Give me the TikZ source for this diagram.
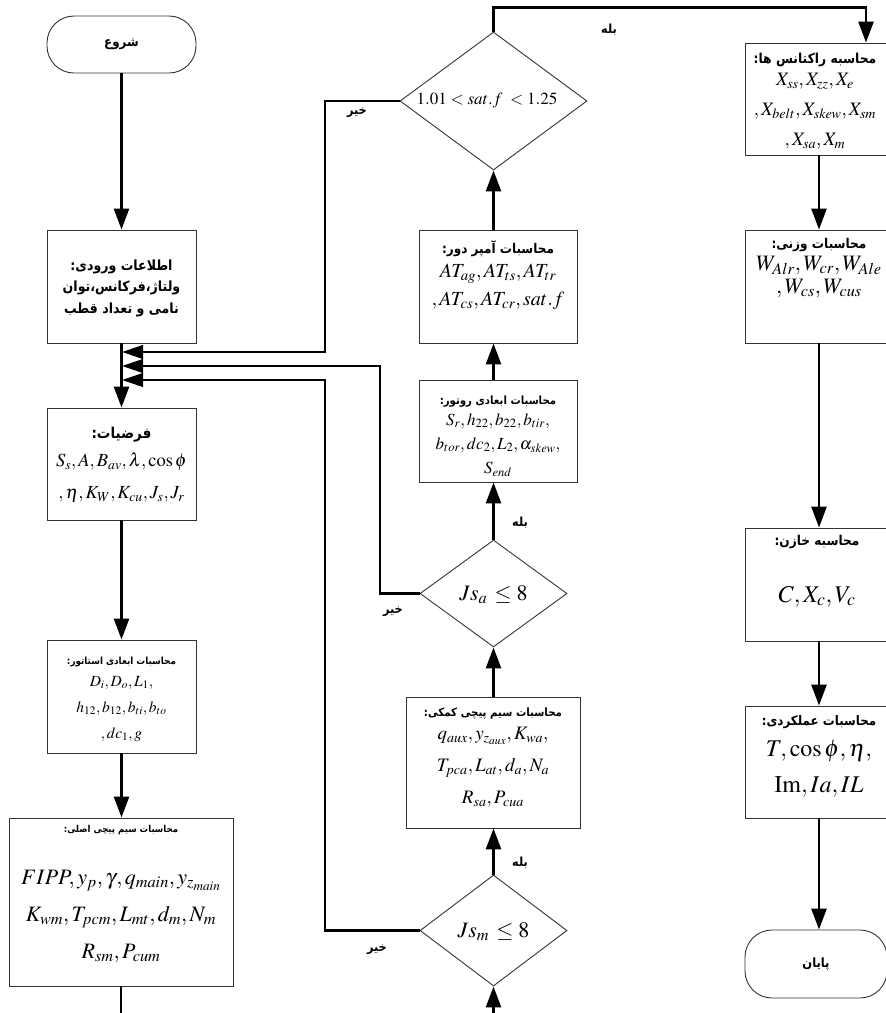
\documentclass[tikz,border=0pt]{standalone}
\usepackage{mathptmx}
\usepackage{fontspec}
\setmainfont{Liberation Serif}
\newfontfamily\farsi[Script=Arabic,FakeStretch=0.9]{DejaVu Sans}
\TeXXeTstate=1
\usetikzlibrary{shapes.geometric,arrows.meta,calc}
\newcommand{\faf}[1]{\fontsize{#1}{#1}\selectfont\farsi\bfseries}
\newcommand{\ms}[2]{\fontsize{#1}{#2}\selectfont}
\begin{document}
\begin{tikzpicture}[x=1pt,y=-1pt,
  box/.style={draw=black!80,line width=0.9pt,rectangle,inner sep=0pt},
  term/.style={draw=black!80,line width=0.9pt,rectangle,rounded corners=27pt,inner sep=0pt},
  dia/.style={draw=black!80,line width=0.9pt,diamond,inner sep=0pt},
  conn/.style={line width=2.6pt,-{Triangle[length=21pt,width=15pt]}},
  fbarrow/.style={line width=2.6pt,-{Triangle[length=21pt,width=13.5pt]}},
  txt/.style={align=center,inner sep=0pt},
  lbl/.style={inner sep=0pt,font=\faf{12.5}}]
\useasboundingbox (0,0) rectangle (886,1013);
\clip (0,0) rectangle (886,1013);

% ---------- left column ----------
\node[term,minimum width=149pt,minimum height=57pt,font=\faf{13.2}] (start) at (121.5,44.5) {\beginR شروع\endR};
\node[box,minimum width=149pt,minimum height=113pt] (in) at (121.5,286.5) {};
\node[txt,font=\ms{14}{21.5}] (in-t) at (121.5,288) {{\faf{14}\beginR اطلاعات ورودی:\endR}\\{\faf{14}\beginR ولتاژ،فرکانس،توان\endR}\\{\faf{14}\beginR نامی و تعداد قطب\endR}};
\node[box,minimum width=149pt,minimum height=112pt] (ass) at (121.5,464) {};
\node[txt,font=\ms{18.5}{32}] (ass-t) at (121.5,465) {{\faf{15}\beginR فرضیات:\endR}\\[-4pt]$S_s, A, B_{av}, \lambda, \cos\phi$\\$,\eta, K_W, K_{cu}, J_s, J_r$};
\node[box,minimum width=149pt,minimum height=113pt] (st) at (121.5,696.5) {};
\node[txt,font=\ms{15.5}{26}] (st-t) at (121.5,699) {{\faf{9.8}\beginR محاسبات ابعادی استاتور:\endR}\\[-4pt]$D_i, D_o, L_1,$\\$h_{12}, b_{12}, b_{ti}, b_{to}$\\$,dc_1, g$};
\node[box,minimum width=224pt,minimum height=168pt] (main) at (121,902) {};
\node[txt,font=\ms{22}{37}] (main-t) at (121,894) {{\faf{9.5}\beginR محاسبات سیم پیچی اصلی:\endR}\\[15pt]$FIPP, y_p, \gamma, q_{main}, y_{z_{main}}$\\$K_{wm}, T_{pcm}, L_{mt}, d_m, N_m$\\$R_{sm}, P_{cum}$};

% ---------- middle column ----------
\node[dia,minimum width=187pt,minimum height=138pt] (td) at (493.5,101) {};
\node[txt,font=\ms{17}{20}] (td-t) at (487,100) {$1.01 < sat.f\; < 1.25$};
\node[box,minimum width=158pt,minimum height=113pt] (amp) at (498,286.5) {};
\node[txt,font=\ms{20}{28}] (amp-t) at (498,275) {{\faf{13.4}\beginR محاسبات آمپر دور:\endR}\\[-4pt]$AT_{ag}, AT_{ts}, AT_{tr}$\\$,AT_{cs}, AT_{cr}, sat.f$};
\node[box,minimum width=158pt,minimum height=102pt] (rot) at (498,431) {};
\node[txt,font=\ms{17}{24}] (rot-t) at (498,436) {{\faf{11.3}\beginR محاسبات ابعادی روتور:\endR}\\[-3pt]$S_r, h_{22}, b_{22}, b_{tir},$\\$b_{tor}, dc_2, L_2, \alpha_{skew},$\\$S_{end}$};
\node[dia,minimum width=147pt,minimum height=107pt] (jsa) at (493.5,593.5) {};
\node[txt,font=\ms{22}{24}] (jsa-t) at (493.5,595) {$Js_a\, \le 8$};
\node[box,minimum width=174pt,minimum height=131pt] (aux) at (493,762.5) {};
\node[txt,font=\ms{19}{32}] (aux-t) at (493,758) {{\faf{11.4}\beginR محاسبات سیم پیچی کمکی:\endR}\\[-9pt]$q_{aux}, y_{z_{aux}}, K_{wa},$\\$T_{pca}, L_{at}, d_a, N_a$\\$R_{sa}, P_{cua}$};
\node[dia,minimum width=147pt,minimum height=111pt] (jsm) at (493.5,930.5) {};
\node[txt,font=\ms{22}{24}] (jsm-t) at (493.5,932) {$Js_m\, \le 8$};

% ---------- right column ----------
\node[box,minimum width=148pt,minimum height=112pt] (react) at (819,99) {};
\node[txt,font=\ms{19}{30}] (react-t) at (815,101) {{\faf{13.7}\beginR محاسبه راکتانس ها:\endR}\\[-8pt]$X_{ss}, X_{zz}, X_e$\\$,X_{belt}, X_{skew}, X_{sm}$\\$,X_{sa}, X_m$};
\node[box,minimum width=148pt,minimum height=113pt] (wt) at (819,286.5) {};
\node[txt,font=\ms{22}{23}] (wt-t) at (819,268) {{\faf{13.5}\beginR محاسبات وزنی:\endR}\\[-1pt]$W_{Alr}, W_{cr}, W_{Ale}$\\$,W_{cs}, W_{cus}$};
\node[box,minimum width=148pt,minimum height=113pt] (cap) at (819,584.5) {};
\node[txt,font=\ms{24}{24}] (cap-t) at (817,571) {{\faf{13.5}\beginR محاسبه خازن:\endR}\\[33pt]$C, X_c, V_c$};
\node[box,minimum width=148pt,minimum height=112pt] (perf) at (819,762) {};
\node[txt,font=\ms{24}{36}] (perf-t) at (819,756) {{\faf{13.2}\beginR محاسبات عملکردی:\endR}\\[-5pt]$T, \cos\phi, \eta,$\\$\mathrm{Im}, Ia, IL$};
\node[term,minimum width=142pt,minimum height=68pt,font=\faf{12.8}] (end) at (816,964) {\beginR پایان\endR};

% ---------- labels ----------
\node[lbl] (yes1) at (609,30) {\beginR بله\endR};
\node[lbl] (no1) at (357,113) {\beginR خیر\endR};
\node[lbl] (yes2) at (520,523) {\beginR بله\endR};
\node[lbl] (no2) at (393,612) {\beginR خیر\endR};
\node[lbl] (yes3) at (520,863) {\beginR بله\endR};
\node[lbl] (no3) at (377,950) {\beginR خیر\endR};

% ---------- feedback entry points ----------
\coordinate (fb1) at (122,352);
\coordinate (fb2) at (122,366);
\coordinate (fb3) at (122,380);

% ---------- connectors ----------
\draw[conn] (start) -- (in);
\draw[conn] (in) -- (ass);
\draw[conn] (ass) -- (st);
\draw[conn] (st) -- (st.south |- main.north);
\draw[conn] (main.south) -- ++(0,60) -| (jsm.south);
\draw[conn] (jsm.north) -- (jsm.north |- aux.south);
\draw[conn] (aux.north -| jsa.south) -- (jsa.south);
\draw[conn] (jsa.north) -- (jsa.north |- rot.south);
\draw[conn] (rot.north -| td.south) -- (td.south |- amp.south);
\draw[conn] (amp.north -| td.south) -- (td.south);
\draw[conn] (td.north) -- ++(0,-24) -| ([xshift=47pt]react.north);
\draw[fbarrow] (td.west) -| ([xshift=203pt]fb1) -- (fb1);
\draw[fbarrow] (jsa.west) -| ([xshift=258pt]fb2) -- (fb2);
\draw[fbarrow] (jsm.west) -| ([xshift=203pt]fb3) -- (fb3);
\draw[conn] (react) -- (wt);
\draw[conn] (wt) -- (cap);
\draw[conn] (cap) -- (perf);
\draw[conn] (perf.south) -- (perf.south |- end.north);
\end{tikzpicture}
\end{document}
